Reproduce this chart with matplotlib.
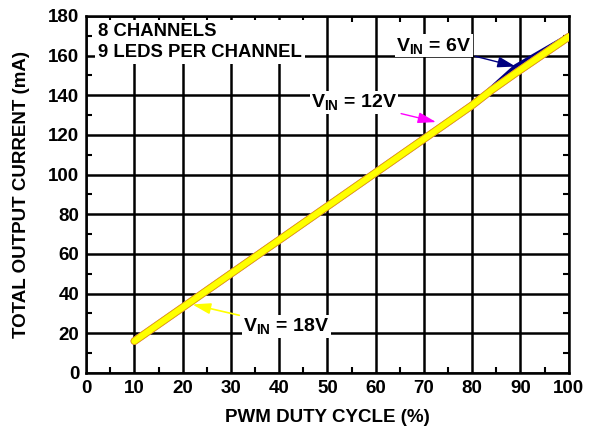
import numpy as np
import matplotlib.pyplot as plt
import matplotlib.patheffects as pe

plt.rcParams['font.family'] = ['Liberation Sans', 'DejaVu Sans']
plt.rcParams['font.weight'] = 'bold'
plt.rcParams['mathtext.fontset'] = 'custom'
plt.rcParams['mathtext.rm'] = 'Liberation Sans:bold'
plt.rcParams['mathtext.bf'] = 'Liberation Sans:bold'
plt.rcParams['mathtext.it'] = 'Liberation Sans:bold'

# duty cycle (%) and total output current (mA) for each input voltage
duty = [10, 20, 30, 40, 50, 60, 70, 80, 84, 89, 100]
i_6v = [16, 33, 50, 67, 84, 101, 118, 135, 143.5, 154.5, 170]
i_12v = [16, 33, 50, 67, 84, 101, 118, 135, 142.6, 151.2, 169.5]
i_18v = [16, 33, 50, 67, 84, 101, 118, 135, 142.6, 151.2, 169.5]

fig = plt.figure(figsize=(5.9, 4.32), dpi=100)
ax = fig.add_axes([0.146, 0.137, 0.818, 0.826])

ax.plot(duty, i_6v, color='#000080', lw=3.5, solid_capstyle='butt', zorder=3)
ax.plot(duty, i_12v, color='#ff00ff', lw=5.5, solid_capstyle='round', zorder=4)
ax.plot(duty, i_18v, color='#ffff00', lw=4.3, solid_capstyle='round', zorder=5,
        path_effects=[pe.Stroke(linewidth=5.6, foreground='#d8b400'), pe.Normal()])

ax.set_xlim(0, 100)
ax.set_ylim(0, 180)
ax.set_xticks(np.arange(0, 101, 10))
ax.set_yticks(np.arange(0, 181, 20))
ax.set_xticks(np.arange(5, 100, 10), minor=True)
ax.set_yticks(np.arange(10, 180, 20), minor=True)
ax.grid(True, which='major', color='black', lw=1.8)
ax.tick_params(which='major', direction='in', length=0, labelsize=13.5, pad=5)
ax.tick_params(which='minor', direction='in', length=4, width=1.5, top=True, right=True)
for s in ax.spines.values():
    s.set_linewidth(1.8)
for lab in ax.get_xticklabels() + ax.get_yticklabels():
    lab.set_fontweight('bold')

ax.set_xlabel('PWM DUTY CYCLE (%)', fontsize=13.5, fontweight='bold', labelpad=9)
ax.set_ylabel('TOTAL OUTPUT CURRENT (mA)', fontsize=13.5, fontweight='bold', labelpad=13)

ax.text(2.5, 176.5, '8 CHANNELS\n9 LEDS PER CHANNEL', fontsize=13.3, fontweight='bold',
        va='top', ha='left', linespacing=1.3,
        bbox=dict(facecolor='white', edgecolor='none', pad=2), zorder=6)

arrow_style = '-|>,head_length=0.5,head_width=0.15'
ax.annotate(r'V$_{\mathrm{IN}}$ = 6V', xy=(89, 154.5), xytext=(72, 165),
            fontsize=14, fontweight='bold', ha='center', va='center',
            bbox=dict(facecolor='white', edgecolor='none', pad=1),
            arrowprops=dict(arrowstyle=arrow_style, color='#000080',
                            lw=1, mutation_scale=22, shrinkA=2, shrinkB=0), zorder=7)
ax.annotate(r'V$_{\mathrm{IN}}$ = 12V', xy=(72.5, 126.5), xytext=(55.5, 136.5),
            fontsize=14, fontweight='bold', ha='center', va='center',
            bbox=dict(facecolor='white', edgecolor='none', pad=1),
            arrowprops=dict(arrowstyle=arrow_style, color='#ff00ff',
                            lw=1, mutation_scale=22, shrinkA=2, shrinkB=0), zorder=7)
ax.annotate(r'V$_{\mathrm{IN}}$ = 18V', xy=(22, 34.5), xytext=(41.5, 23.5),
            fontsize=14, fontweight='bold', ha='center', va='center',
            bbox=dict(facecolor='white', edgecolor='none', pad=1),
            arrowprops=dict(arrowstyle=arrow_style, color='#ffff00',
                            lw=1.2, mutation_scale=22, shrinkA=2, shrinkB=0), zorder=7)

fig.savefig('out.png', dpi=100)
